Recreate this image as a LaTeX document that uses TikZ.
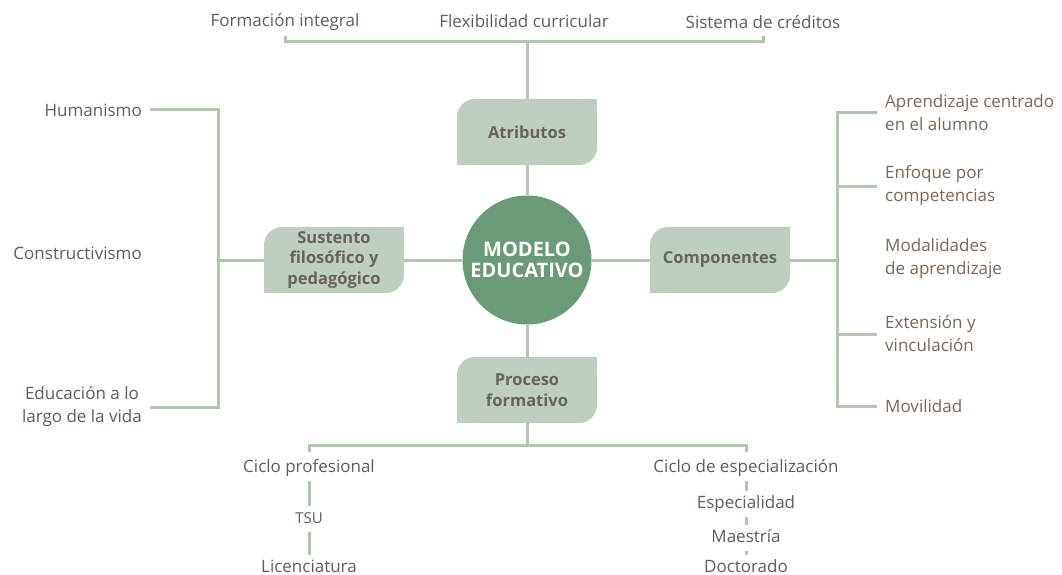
\documentclass[tikz,border=0pt]{standalone}
\usepackage{fontspec}
\setmainfont{Open Sans}
\usetikzlibrary{backgrounds}
\definecolor{sage}{HTML}{BFCFBF}
\definecolor{hubgreen}{HTML}{6B9A78}
\definecolor{linegreen}{HTML}{B3C6B2}
\definecolor{inkgray}{HTML}{615C58}
\definecolor{inkbrown}{HTML}{7A6657}
\definecolor{boxink}{HTML}{69625D}
\begin{document}
\begin{tikzpicture}[x=1pt,y=-1pt,
 hub/.style={circle,fill=hubgreen,minimum size=129pt,inner sep=0pt,text=white,align=center,font=\fontsize{20}{21}\selectfont\bfseries},
 branch/.style={rectangle,fill=sage,rounded corners=18pt,minimum width=140pt,minimum height=66pt,inner sep=2pt,align=center,text=boxink,font=\fontsize{16.5}{20.5}\selectfont\bfseries},
 leaf/.style={inner sep=0pt,align=center,text=inkgray,font=\fontsize{17}{23}\selectfont},
 item/.style={leaf,anchor=west,align=left,text=inkbrown},
 chain/.style={leaf,text height=12pt,text depth=4pt,inner ysep=5pt},
 link/.style={draw=linegreen,line width=3pt}]
 \useasboundingbox (0,0) rectangle (1062,575);
 \node[hub] (model) at (527,260) {MODELO\\EDUCATIVO};
 \node[branch] (attr) at (527,132) {Atributos};
 \node[branch] (sust) at (334,260) {Sustento\\filosófico y\\pedagógico};
 \node[branch] (comp) at (720,260) {Componentes};
 \node[branch] (proc) at (527,390) {Proceso\\formativo};
 \begin{scope}[on background layer]
  \foreach \b in {attr,sust,comp,proc} {
   \fill[sage] (\b.north east) rectangle ++(-20,20);
   \fill[sage] (\b.south west) rectangle ++(20,-20);
  }
 \end{scope}
 \node[leaf] (integ) at (285,22) {Formación integral};
 \node[leaf] (flex) at (524,21) {Flexibilidad curricular};
 \node[leaf] (cred) at (763,22) {Sistema de créditos};
 \node[leaf,anchor=east] (human) at (142,110) {Humanismo};
 \node[leaf,anchor=east] (constr) at (142,253) {Constructivismo};
 \node[leaf,anchor=east] (lifelong) at (142,407) {Educación a lo\\largo de la vida};
 \node[item] (learner) at (885,113) {Aprendizaje centrado\\en el alumno};
 \node[item] (compet) at (885,186) {Enfoque por\\competencias};
 \node[item] (modal) at (885,259) {Modalidades\\de aprendizaje};
 \node[item] (ext) at (885,334) {Extensión y\\vinculación};
 \node[item] (mobil) at (885,406) {Movilidad};
 \node[chain] (prof) at (309,468) {Ciclo profesional};
 \node[chain,font=\fontsize{15}{17}\selectfont] (tsu) at (309,519) {TSU};
 \node[chain] (lic) at (309,568) {Licenciatura};
 \node[chain] (spec) at (746,468) {Ciclo de especialización};
 \node[chain] (esp) at (746,504) {Especialidad};
 \node[chain] (mae) at (746,538) {Maestría};
 \node[chain] (doc) at (746,568) {Doctorado};
 \coordinate (tb) at (527,42);
 \coordinate (tt) at (0,36);
 \coordinate (lb) at (218,260);
 \coordinate (rb) at (837,260);
 \coordinate (bb) at (527,445);
 \coordinate (bt) at (0,452);
 \draw[link] (tb) -- (attr) -- (model) -- (proc) -- (bb);
 \draw[link] (lb) -- (sust) -- (model) -- (comp) -- (rb);
 \draw[link] (integ |- tt) -- (integ |- tb) -- (cred |- tb) -- (cred |- tt);
 \draw[link] ([xshift=8pt]human.east) -- ++(68,0) |- ([xshift=8pt]lifelong.east);
 \draw[link] ([xshift=-8pt]learner.west) -- ++(-40,0) |- ([xshift=-8pt]mobil.west);
 \draw[link] ([xshift=-8pt]compet.west) -- ++(-40,0);
 \draw[link] ([xshift=-8pt]ext.west) -- ++(-40,0);
 \draw[link] (prof |- bt) -- (prof |- bb) -- (spec |- bb) -- (spec |- bt);
 \draw[link] (prof) -- (tsu) -- (lic);
 \draw[link] (spec) -- (esp) -- (mae) -- (doc);
\end{tikzpicture}
\end{document}
